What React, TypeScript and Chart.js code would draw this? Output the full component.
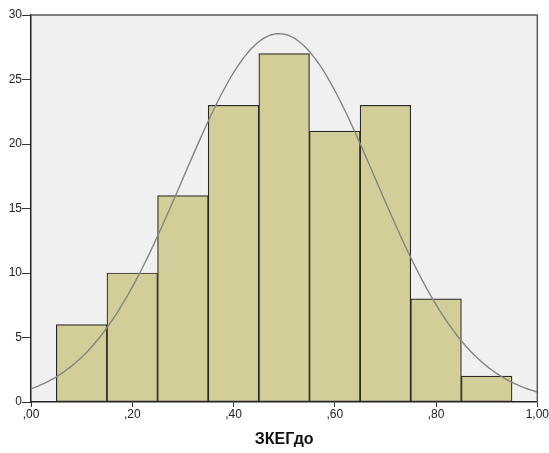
import React, { useEffect, useRef } from "react";
import { Chart, registerables } from "chart.js";

Chart.register(...registerables);

const binCenters = [0.1, 0.2, 0.3, 0.4, 0.5, 0.6, 0.7, 0.8, 0.9];
const binCounts = [6, 10, 16, 23, 27, 21, 23, 8, 2];
const curveMean = 0.49;
const curveStd = 0.19;
const binWidth = 0.1;
const yTicks = [0, 5, 10, 15, 20, 25, 30];
const xTicks = [0, 0.2, 0.4, 0.6, 0.8, 1.0];
const xTitle = "ЗКЕГдо";

function fmt(v: number): string {
  const s = v.toFixed(2).replace(".", ",");
  return s.startsWith("0,") ? s.slice(1) : s;
}

export default function App() {
  const ref = useRef<HTMLCanvasElement>(null);
  useEffect(() => {
    if (!ref.current) return;
    const total = binCounts.reduce((a, b) => a + b, 0);
    const curve: { x: number; y: number }[] = [];
    for (let i = 0; i <= 200; i++) {
      const x = i / 200;
      const z = (x - curveMean) / curveStd;
      const y = (total * binWidth) / (curveStd * Math.sqrt(2 * Math.PI)) * Math.exp(-0.5 * z * z);
      curve.push({ x, y });
    }
    const bg = {
      id: "bg",
      beforeDraw(chart: any) {
        const { ctx, chartArea: a } = chart;
        ctx.save();
        ctx.fillStyle = "#ffffff";
        ctx.fillRect(0, 0, chart.width, chart.height);
        ctx.fillStyle = "#F0F0F0";
        ctx.fillRect(a.left, a.top, a.right - a.left, a.bottom - a.top);
        ctx.restore();
      },
      afterDraw(chart: any) {
        const { ctx, chartArea: a } = chart;
        ctx.save();
        ctx.strokeStyle = "#5a5a5a";
        ctx.lineWidth = 1.5;
        ctx.beginPath();
        ctx.moveTo(a.left, a.top);
        ctx.lineTo(a.right, a.top);
        ctx.lineTo(a.right, a.bottom);
        ctx.stroke();
        ctx.restore();
      },
    };
    const chart = new Chart(ref.current, {
      type: "bar",
      data: {
        datasets: [
          {
            type: "line",
            data: curve,
            borderColor: "#858585",
            borderWidth: 1.4,
            pointRadius: 0,
            fill: false,
            tension: 0,
            order: 0,
          } as any,
          {
            type: "bar",
            data: binCenters.map((x, i) => ({ x, y: binCounts[i] })),
            backgroundColor: "#D3CE97",
            borderColor: "#2a2a2a",
            borderWidth: 1.2,
            borderSkipped: false,
            barPercentage: 1,
            categoryPercentage: 1,
            order: 1,
          } as any,
        ],
      },
      options: {
        responsive: false,
        animation: false,
        devicePixelRatio: 1,
        layout: { padding: { top: 15, right: 11, left: 0, bottom: 0 } },
        plugins: { legend: { display: false }, tooltip: { enabled: false } },
        scales: {
          x: {
            type: "linear",
            min: 0,
            max: 1,
            offset: false,
            afterBuildTicks: (s: any) => {
              s.ticks = xTicks.map((v) => ({ value: v }));
            },
            ticks: {
              callback: (v: any) => fmt(Number(v)),
              color: "#222",
              font: { family: "Arial, 'Liberation Sans'", size: 12 },
              padding: 0,
              maxRotation: 0,
            },
            grid: { offset: false, drawOnChartArea: false, drawTicks: true, tickLength: 5, color: "#333", lineWidth: 1 },
            border: { display: true, color: "#222", width: 1.5 },
            title: {
              display: true,
              text: xTitle,
              color: "#111",
              font: { family: "Arial, 'Liberation Sans'", size: 16, weight: "bold" },
              padding: { top: 1, bottom: 4 },
            },
            afterFit: (s: any) => {
              s.height = 51;
            },
          },
          y: {
            type: "linear",
            min: 0,
            max: 30,
            afterBuildTicks: (s: any) => {
              s.ticks = yTicks.map((v) => ({ value: v }));
            },
            ticks: {
              color: "#222",
              font: { family: "Arial, 'Liberation Sans'", size: 12 },
              padding: 0,
            },
            grid: { drawOnChartArea: false, drawTicks: true, tickLength: 9, color: "#333", lineWidth: 1 },
            border: { display: true, color: "#222", width: 1.5 },
            afterFit: (s: any) => {
              s.width = 31;
            },
          },
        },
      } as any,
      plugins: [bg],
    });
    return () => chart.destroy();
  }, []);
  return (
    <div style={{ position: "absolute", left: 0, top: 0, width: 549, height: 453, background: "#fff" }}>
      <canvas ref={ref} width={549} height={453} style={{ display: "block" }} />
    </div>
  );
}
